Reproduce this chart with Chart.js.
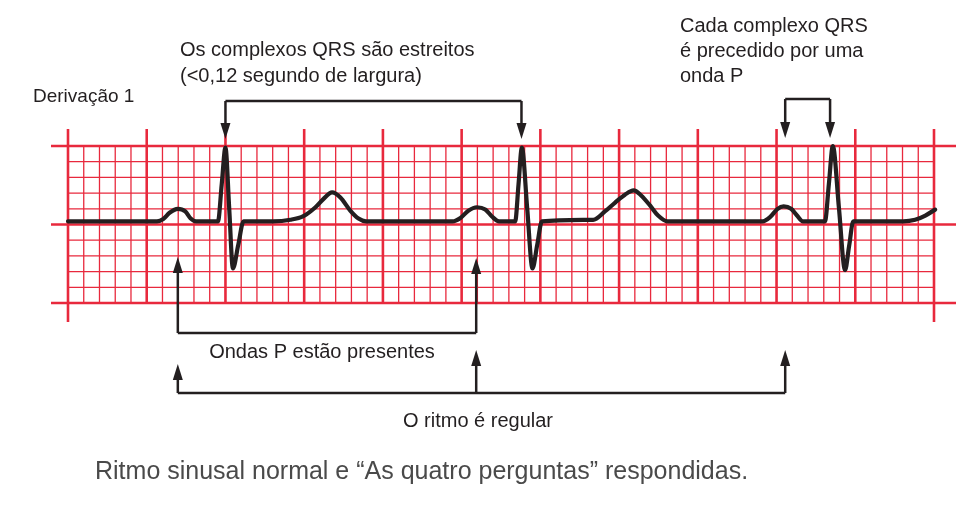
<!doctype html>
<html lang="pt">
  <head>
    <meta charset="utf-8">
    <style>
      * {
        margin: 0;
        padding: 0;
      }
      body {
        background: #fff;
        width: 972px;
        height: 510px;
        overflow: hidden;
      }
    </style>
  </head>
  <body>
    <canvas id="ecgChart" width="972" height="510"></canvas>
    <script src="https://cdn.jsdelivr.net/npm/chart.js/dist/chart.umd.min.js"></script>
    <script>
    // Lead I trace: time in seconds (0.04 s per small box), amplitude in mV (0.1 mV per small box)
    const ecgTime = [
      0.000, 0.226, 0.242, 0.258, 0.279, 0.298, 0.311, 0.325,
      0.381, 0.3905, 0.400, 0.4095, 0.419, 0.4325, 0.446,
      0.521, 0.565, 0.598, 0.628, 0.648, 0.671, 0.692, 0.717, 0.738, 0.757,
      0.977, 0.997, 1.017, 1.039, 1.060, 1.077, 1.095,
      1.136, 1.1445, 1.153, 1.1665, 1.180, 1.192, 1.204,
      1.334, 1.364, 1.390, 1.415, 1.437, 1.456, 1.479, 1.499, 1.523,
      1.765, 1.784, 1.802, 1.818, 1.837, 1.852, 1.867,
      1.923, 1.933, 1.943, 1.9585, 1.974, 1.9845, 1.995,
      2.122, 2.152, 2.178, 2.203
    ];
    const ecgMv = [
      0.02, 0.02, 0.035, 0.075, 0.10, 0.083, 0.040, 0.02,
      0.02, 0.255, 0.49, 0.105, -0.28, -0.13, 0.02,
      0.02, 0.03, 0.053, 0.108, 0.16, 0.204, 0.172, 0.089, 0.038, 0.02,
      0.02, 0.042, 0.088, 0.11, 0.096, 0.051, 0.02,
      0.02, 0.255, 0.49, 0.105, -0.28, -0.13, 0.02,
      0.03, 0.083, 0.14, 0.19, 0.217, 0.185, 0.12, 0.057, 0.02,
      0.02, 0.048, 0.098, 0.115, 0.10, 0.057, 0.02,
      0.02, 0.26, 0.50, 0.105, -0.29, -0.135, 0.02,
      0.02, 0.03, 0.057, 0.095
    ];

    // where the annotations point (seconds)
    const pWaveTimes = [0.279, 1.037, 1.822];
    const qrsTimes = [0.400, 1.152, 1.936];

    // paper: 55 small boxes of 0.04 s, 10 small boxes of 0.1 mV
    const boxTime = 0.04;
    const boxMv = 0.1;
    const boxesX = 55;
    const boxesY = 10;

    const leadLabel = 'Derivação 1';
    const qrsNote = ['Os complexos QRS são estreitos', '(<0,12 segundo de largura)'];
    const pBeforeQrsNote = ['Cada complexo QRS', 'é precedido por uma', 'onda P'];
    const pPresentNote = 'Ondas P estão presentes';
    const rhythmNote = 'O ritmo é regular';
    const caption = 'Ritmo sinusal normal e \u201cAs quatro perguntas\u201d respondidas.';

    const red = '#e8293d';
    const ink = '#231f20';

    const points = ecgTime.map((t, i) => ({ x: t, y: ecgMv[i] }));

    // ECG paper grid
    const ecgPaper = {
      id: 'ecgPaper',
      beforeDatasetsDraw(chart) {
        const { ctx, chartArea: { top, bottom, left, right }, scales: { x, y } } = chart;
        ctx.save();
        ctx.strokeStyle = red;
        for (let i = 0; i <= boxesX; i++) {
          const px = x.getPixelForValue(i * boxTime);
          const major = i % 5 === 0;
          ctx.lineWidth = major ? 2.6 : 1.3;
          ctx.beginPath();
          ctx.moveTo(px, major ? top - 17 : top);
          const edge = i === 0 || i === boxesX;
          ctx.lineTo(px, edge ? bottom + 19 : bottom);
          ctx.stroke();
        }
        for (let j = 0; j <= boxesY; j++) {
          const py = y.getPixelForValue(-0.5 + j * boxMv);
          const major = j % 5 === 0;
          ctx.lineWidth = major ? 2.6 : 1.3;
          ctx.beginPath();
          ctx.moveTo(major ? left - 17 : left, py);
          ctx.lineTo(major ? right + 22 : right, py);
          ctx.stroke();
        }
        ctx.restore();
      }
    };

    function arrowHead(ctx, x, tipY, dir) {
      // dir = 1 points down, -1 points up
      ctx.beginPath();
      ctx.moveTo(x, tipY);
      ctx.lineTo(x - 5, tipY - dir * 16);
      ctx.lineTo(x + 5, tipY - dir * 16);
      ctx.closePath();
      ctx.fill();
    }

    function bracket(ctx, xs, lineY, tips) {
      ctx.beginPath();
      ctx.moveTo(xs[0], lineY);
      ctx.lineTo(xs[xs.length - 1], lineY);
      ctx.stroke();
      xs.forEach((px, i) => {
        const dir = tips[i] > lineY ? 1 : -1;
        ctx.beginPath();
        ctx.moveTo(px, lineY);
        ctx.lineTo(px, tips[i] - dir * 12);
        ctx.stroke();
        arrowHead(ctx, px, tips[i], dir);
      });
    }

    // callouts and captions
    const notes = {
      id: 'notes',
      afterDatasetsDraw(chart) {
        const { ctx, scales: { x } } = chart;
        ctx.save();
        ctx.strokeStyle = ink;
        ctx.fillStyle = ink;
        ctx.lineWidth = 2.5;
        ctx.lineJoin = 'round';

        const p = pWaveTimes.map(t => x.getPixelForValue(t));
        const q = qrsTimes.map(t => x.getPixelForValue(t));

        bracket(ctx, [q[0], q[1]], 101, [139, 139]);
        bracket(ctx, [p[2], q[2]], 99, [138, 138]);
        bracket(ctx, [p[0], p[1]], 333, [257, 258]);
        bracket(ctx, [p[0], p[1], p[2]], 393, [364, 350, 350]);

        ctx.textBaseline = 'middle';
        ctx.textAlign = 'left';
        ctx.font = '19px "Liberation Sans", Arial, sans-serif';
        ctx.fillText(leadLabel, 33, 97);
        ctx.font = '20px "Liberation Sans", Arial, sans-serif';
        qrsNote.forEach((s, i) => ctx.fillText(s, 180, 50 + i * 26));
        pBeforeQrsNote.forEach((s, i) => ctx.fillText(s, 680, 26 + i * 25));
        ctx.textAlign = 'center';
        ctx.fillText(pPresentNote, 322, 352);
        ctx.fillText(rhythmNote, 478, 421);

        ctx.textAlign = 'left';
        ctx.fillStyle = '#4a4a4a';
        ctx.font = '25px "Liberation Sans", Arial, sans-serif';
        ctx.fillText(caption, 95, 472);
        ctx.restore();
      }
    };

    const config = {
      type: 'line',
      data: {
        datasets: [{
          label: leadLabel,
          data: points,
          borderColor: ink,
          borderWidth: 4.2,
          borderJoinStyle: 'round',
          borderCapStyle: 'round',
          cubicInterpolationMode: 'monotone',
          pointRadius: 0,
          fill: false,
          clip: false
        }]
      },
      options: {
        responsive: false,
        animation: false,
        devicePixelRatio: 1,
        layout: {
          padding: { left: 68, right: 38, top: 146, bottom: 207 }
        },
        scales: {
          x: { type: 'linear', min: 0, max: boxesX * boxTime, display: false },
          y: { type: 'linear', min: -0.5, max: 0.5, display: false }
        },
        plugins: {
          legend: { display: false },
          tooltip: { enabled: false }
        }
      },
      plugins: [ecgPaper, notes]
    };

    const ecgChart = new Chart(document.getElementById('ecgChart'), config);
    </script>
  </body>
</html>
